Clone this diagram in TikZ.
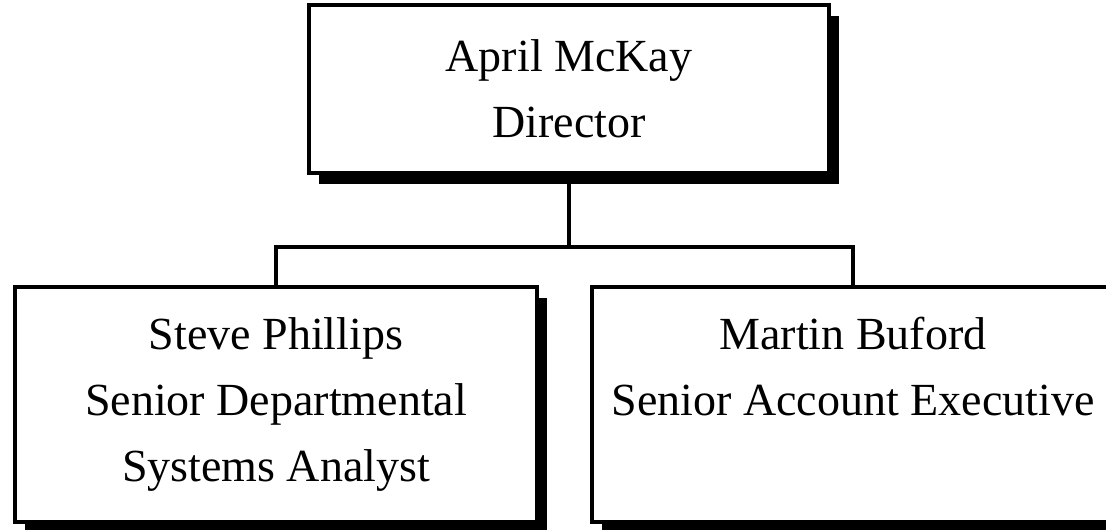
\documentclass[tikz,border=0pt]{standalone}
\usepackage{fontspec}
\setmainfont{Liberation Serif}
\usetikzlibrary{shadows}
\begin{document}
\begin{tikzpicture}[x=1pt,y=-1pt,
  orgbox/.style={draw=black, line width=3.6pt, fill=white, rectangle, inner sep=0pt, outer sep=0pt,
    align=center, font=\fontsize{46}{66}\selectfont,
    drop shadow={shadow xshift=10pt, shadow yshift=-11pt, fill=black, opacity=1, fill opacity=1}},
  link/.style={draw=black, line width=3.2pt}]
\useasboundingbox (0,0) rectangle (1106,530);
\clip (0,0) rectangle (1106,530);
\node[orgbox, minimum width=520pt, minimum height=168pt] (top) at (569,89) {April McKay\\Director};
\node[orgbox, minimum width=522pt, minimum height=235pt] (left) at (276,404.5) {Steve Phillips\\Senior Departmental\\Systems Analyst};
\node[orgbox, minimum width=522pt, minimum height=235pt] (right) at (853,404.5) {Martin Buford\\Senior Account Executive\\\vphantom{Systems Analyst}};
\coordinate (bus) at (569,247);
\draw[link] (top.south) -- (bus);
\draw[link] (left.north) |- (bus) -| (right.north);
\end{tikzpicture}
\end{document}
